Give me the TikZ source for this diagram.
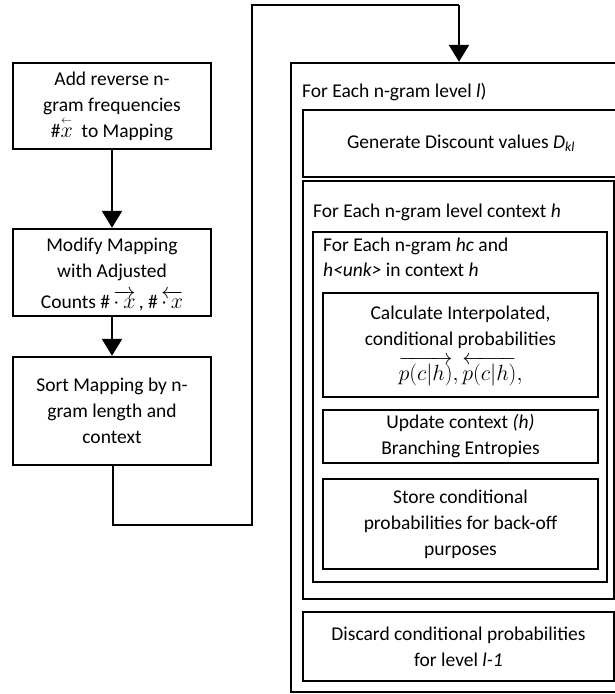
\RequirePackage{fix-cm}
\documentclass[tikz,border=0pt]{standalone}
\usepackage{amsmath}
\usepackage{fontspec}
\setmainfont{Carlito}
\usetikzlibrary{arrows.meta}
\newcommand{\bigmath}[1]{{\fontsize{22}{26}\selectfont$#1$}}
\tikzset{
  box/.style={draw, line width=2.4pt, inner sep=0pt, align=center, font=\fontsize{19.5}{26}\selectfont},
  lbl/.style={inner sep=0pt, anchor=west, align=left, font=\fontsize{19.5}{25}\selectfont},
  arr/.style={line width=2.4pt, -{Triangle[width=20pt,length=17pt]}},
  conn/.style={line width=2.4pt}
}
\begin{document}
\begin{tikzpicture}[x=1pt,y=-1pt]
\useasboundingbox (0,0) rectangle (615,694);
\clip (0,0) rectangle (615,694);
% left column
\node[box, minimum width=198pt, minimum height=86pt] (b1) at (112,106)
  {Add reverse n-\\gram frequencies\\\#\bigmath{\overset{\scriptscriptstyle\leftarrow}{x}}\ \ to Mapping};
\node[box, minimum width=198pt, minimum height=87pt] (b2) at (112,272.5) {};
\node[align=center, inner sep=0pt, font=\fontsize{19.5}{26}\selectfont] (b2t) at (112,274)
  {Modify Mapping\\with Adjusted\\[5pt]Counts \#\,\bigmath{\overrightarrow{\cdot\, x}}\,, \#\,\bigmath{\overleftarrow{\cdot\, x}}};
\node[box, minimum width=198pt, minimum height=108pt] (b3) at (112,411)
  {Sort Mapping by n-\\gram length and\\context};
\draw[arr] (b1) -- (b2);
\draw[arr] (b2) -- (b3);
% outer loop box
\node[box, minimum width=339pt, minimum height=629pt] (outer) at (460.5,377.5) {};
\node[lbl] (t1) at (302,92) {For Each n-gram level \textit{l})};
\node[box, minimum width=322pt, minimum height=67pt] (gen) at (464,143.5)
  {\hspace*{-6pt}Generate Discount values \textit{D\textsubscript{kl}}};
\node[box, minimum width=311pt, minimum height=418pt] (ctx) at (458.5,390) {};
\node[lbl] (t2) at (313,212) {For Each n-gram level context \textit{h}};
\node[box, minimum width=294pt, minimum height=350pt] (hc) at (460,407) {};
\node[lbl, anchor=north west] (t3) at (323,238) {For Each n-gram \textit{hc} and\\\textit{h<unk>} in context \textit{h}};
\node[box, minimum width=275pt, minimum height=104pt] (calc) at (460.5,345) {};
\node[align=center, inner sep=0pt, font=\fontsize{19.5}{26}\selectfont] (calct) at (460.5,346)
  {Calculate Interpolated,\\conditional probabilities\\[7pt]\bigmath{\overrightarrow{p(c|h)}, \overleftarrow{p(c|h)},}};
\node[box, minimum width=275pt, minimum height=53pt] (upd) at (460.5,436.5)
  {Update context \textit{(h)}\\Branching Entropies};
\node[box, minimum width=275pt, minimum height=90pt] (store) at (460.5,524)
  {Store conditional\\probabilities for back-off\\purposes};
\node[box, minimum width=311pt, minimum height=69pt] (disc) at (458.5,646.5)
  {Discard conditional probabilities\\for level \textit{l-1}};
% connector from left column to outer loop
\coordinate (c1) at (113,525);
\coordinate (c2) at (252,525);
\coordinate (c3) at (252,5);
\coordinate (c4) at (459,5);
\draw[conn] (b3.south -| c1) -- (c1) -- (c2) -- (c3) -- (c4);
\draw[arr] (c4) -- (c4 |- outer.north);
\end{tikzpicture}
\end{document}
